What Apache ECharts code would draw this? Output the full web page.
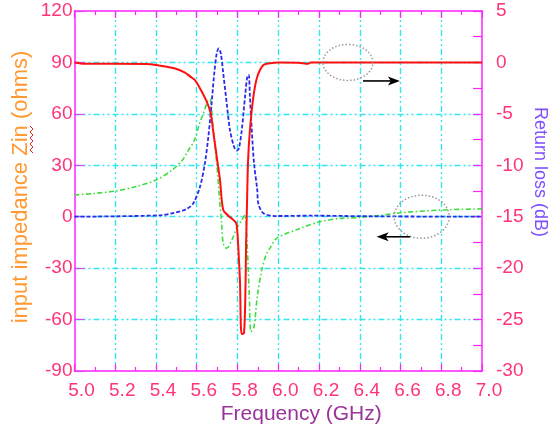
<!DOCTYPE html>
<html>
<head>
<meta charset="utf-8">
<script src="https://cdn.jsdelivr.net/npm/echarts@6/dist/echarts.min.js"></script>
<style>
  html, body { margin: 0; padding: 0; background: #ffffff; }
  #chart { width: 559px; height: 430px; }
</style>
</head>
<body>
<div id="chart"></div>
<script>
// Return loss (dB) versus frequency (GHz)
const freqRL = [5.00, 5.05, 5.35, 5.41, 5.49, 5.54, 5.57, 5.59, 5.615, 5.649, 5.668, 5.680, 5.698, 5.714, 5.730, 5.755, 5.779, 5.793, 5.799, 5.804, 5.812, 5.820, 5.832, 5.839, 5.842, 5.847, 5.852, 5.861, 5.878, 5.897, 5.927, 5.960, 6.00, 6.10, 6.146, 6.16, 7.00];
const lossRL = [0.00, -0.13, -0.15, -0.28, -0.57, -0.96, -1.40, -1.70, -2.49, -3.82, -4.92, -6.57, -9.16, -11.43, -14.35, -14.9, -15.3, -15.6, -16.4, -18.0, -21.2, -26.4, -26.3, -22.1, -17.9, -13.4, -9.5, -6.57, -3.33, -1.39, -0.25, -0.08, 0.0, -0.02, -0.12, 0.0, 0.0];

// Input impedance, real part (ohms)
const freqZr = [5.00, 5.42, 5.49, 5.55, 5.583, 5.616, 5.640, 5.657, 5.673, 5.686, 5.698, 5.708, 5.718, 5.730, 5.747, 5.763, 5.783, 5.796, 5.807, 5.821, 5.837, 5.848, 5.855, 5.861, 5.870, 5.881, 5.897, 5.902, 5.927, 5.992, 6.156, 6.50, 7.00];
const zReal  = [0.0, 0.8, 2.3, 4.5, 7.8, 17.5, 31.2, 46.7, 66.2, 83.7, 95.3, 98.2, 95.3, 83.7, 66.2, 50.6, 40.8, 38.5, 39.9, 50.6, 70.0, 81.7, 82.7, 70.0, 50.6, 31.2, 15.6, 7.8, 2.0, 0.4, 0.6, 0.2, 0.0];

// Input impedance, imaginary part (ohms)
const freqZi = [5.00, 5.10, 5.20, 5.30, 5.40, 5.48, 5.53, 5.56, 5.59, 5.61, 5.632, 5.657, 5.665, 5.681, 5.698, 5.711, 5.722, 5.730, 5.747, 5.772, 5.796, 5.821, 5.837, 5.848, 5.858, 5.866, 5.881, 5.897, 5.919, 5.94, 5.96, 5.992, 6.107, 6.205, 6.303, 6.40, 6.45, 6.50, 6.60, 6.80, 7.00];
const zImag  = [12.7, 13.6, 15.0, 17.5, 21.4, 27.3, 33.1, 38.9, 45.0, 53.0, 60.3, 68.1, 68.5, 50.6, 31.2, 11.7, -3.8, -15.5, -18.4, -13.6, -6.8, -1.9, 1.0, -17.5, -46.7, -67.1, -64.2, -46.7, -31.1, -22.3, -18.2, -12.6, -6.8, -2.9, -1.0, -0.5, 0.3, 0.8, 2.3, 3.9, 4.6];

// Axis ranges
const freqRange = [5.0, 7.0, 0.2];
const zRange = [-90, 120, 30];
const dbRange = [-30, 5, 5];

// Annotation anchors: [freq, value] of ellipse centres and arrow ends
const ellipseRL = [6.342, 0.0];
const arrowRL = [[6.416, -1.8], [6.597, -1.8]];
const ellipseZ = [6.704, 0.0];
const arrowZ = [[6.647, -11.7], [6.483, -11.7]];

const zip = (xs, ys) => xs.map((x, i) => [x, ys[i]]);

const FONT = '"Liberation Sans", Arial, Helvetica, sans-serif';
const AXIS_COLOR = '#ff22ff';
const LABEL_COLOR = '#ff3377';
const GRID_STYLE = { color: '#2ee8ee', width: 1.4, type: [6, 3, 2, 3, 2, 3] };

const chart = echarts.init(document.getElementById('chart'), null, { renderer: 'canvas' });

const option = {
  backgroundColor: '#ffffff',
  animation: false,
  grid: { left: 74.5, right: 77, top: 11, bottom: 59, containLabel: false },
  xAxis: [
    {
      type: 'value', min: freqRange[0], max: freqRange[1], interval: freqRange[2],
      position: 'bottom',
      name: 'Frequency (GHz)', nameLocation: 'middle', nameGap: 33, nameMoveOverlap: false,
      nameTextStyle: { color: '#993399', fontSize: 21, fontFamily: FONT, padding: [0, 0, 0, 46] },
      axisLine: { show: true, onZero: false, lineStyle: { color: AXIS_COLOR, width: 1.5 } },
      axisTick: { show: true, inside: true, length: 7, lineStyle: { color: AXIS_COLOR, width: 1.2 } },
      minorTick: { show: true, splitNumber: 2, length: 4, lineStyle: { color: AXIS_COLOR, width: 1.2 } },
      axisLabel: { color: LABEL_COLOR, fontSize: 19, fontFamily: FONT, margin: 10, padding: [0, 0, 0, 14],
        showMinLabel: true, showMaxLabel: true, hideOverlap: false,
        formatter: v => v.toFixed(1) },
      splitLine: { show: true, showMinLine: false, showMaxLine: false, lineStyle: GRID_STYLE }
    },
    {
      type: 'value', min: freqRange[0], max: freqRange[1], interval: freqRange[2],
      position: 'top',
      axisLine: { show: true, onZero: false, lineStyle: { color: AXIS_COLOR, width: 1.5 } },
      axisTick: { show: true, inside: true, length: 7, lineStyle: { color: AXIS_COLOR, width: 1.2 } },
      minorTick: { show: true, splitNumber: 2, length: 4, lineStyle: { color: AXIS_COLOR, width: 1.2 } },
      axisLabel: { show: false },
      splitLine: { show: false }
    }
  ],
  yAxis: [
    {
      type: 'value', min: zRange[0], max: zRange[1], interval: zRange[2],
      position: 'left',
      name: 'input impedance Zin (ohms)', nameLocation: 'middle', nameGap: 43, nameRotate: 90, nameMoveOverlap: false,
      nameTextStyle: { color: '#ff9933', fontSize: 22, fontFamily: FONT, padding: [0, 0, 0, 8] },
      axisLine: { show: true, onZero: false, lineStyle: { color: AXIS_COLOR, width: 1.5 } },
      axisTick: { show: true, inside: true, length: 10, lineStyle: { color: '#dd44ff', width: 1.2 } },
      axisLabel: { color: LABEL_COLOR, fontSize: 19, fontFamily: FONT, margin: 2, verticalAlign: 'middle',
        padding: [10, 0, 0, 0], showMinLabel: true, showMaxLabel: true, hideOverlap: false },
      splitLine: { show: true, showMinLine: false, showMaxLine: false, lineStyle: GRID_STYLE }
    },
    {
      type: 'value', min: dbRange[0], max: dbRange[1], interval: dbRange[2],
      position: 'right',
      name: 'Return loss (dB)', nameLocation: 'middle', nameGap: 49, nameRotate: -90, nameMoveOverlap: false,
      nameTextStyle: { color: '#8050ff', fontSize: 18, fontFamily: FONT, padding: [0, 38, 0, 0] },
      axisLine: { show: true, onZero: false, lineStyle: { color: AXIS_COLOR, width: 1.5 } },
      axisTick: { show: true, inside: true, length: 9, lineStyle: { color: AXIS_COLOR, width: 1.2 } },
      minorTick: { show: true, splitNumber: 2, length: 9, lineStyle: { color: AXIS_COLOR, width: 1.2 } },
      axisLabel: { color: LABEL_COLOR, fontSize: 19, fontFamily: FONT, margin: 14, verticalAlign: 'middle',
        padding: [10, 0, 0, 0], showMinLabel: true, showMaxLabel: true, hideOverlap: false },
      splitLine: { show: false }
    }
  ],
  series: [
    {
      name: 'Im(Zin)', type: 'line', xAxisIndex: 0, yAxisIndex: 0,
      data: zip(freqZi, zImag), showSymbol: false, symbol: 'none', smooth: 0.3,
      lineStyle: { color: '#3ddd3d', width: 1.6, type: [5, 2.5, 1.5, 2.5] }
    },
    {
      name: 'Re(Zin)', type: 'line', xAxisIndex: 0, yAxisIndex: 0,
      data: zip(freqZr, zReal), showSymbol: false, symbol: 'none', smooth: 0.3,
      lineStyle: { color: '#2a2aee', width: 1.8, type: [4, 2] }
    },
    {
      name: 'Return loss', type: 'line', xAxisIndex: 0, yAxisIndex: 1,
      data: zip(freqRL, lossRL), showSymbol: false, symbol: 'none', smooth: 0.3,
      lineStyle: { color: '#ff1010', width: 2 }
    }
  ]
};

chart.setOption(option);

// Annotation ellipses and arrows, placed from data coordinates
function px(pt, yIdx) {
  return chart.convertToPixel({ xAxisIndex: 0, yAxisIndex: yIdx }, pt);
}
function arrow(p0, p1) {
  const dir = Math.sign(p1[0] - p0[0]);
  const head = 12, half = 4.5;
  return [
    { type: 'line', shape: { x1: p0[0], y1: p0[1], x2: p1[0] - dir * head * 0.6, y2: p1[1] },
      style: { stroke: '#000', lineWidth: 1.6 }, z: 100 },
    { type: 'polygon', shape: { points: [[p1[0], p1[1]], [p1[0] - dir * head, p1[1] - half], [p1[0] - dir * head * 0.75, p1[1]], [p1[0] - dir * head, p1[1] + half]] },
      style: { fill: '#000' }, z: 100 }
  ];
}
function ellipse(c, rx, ry) {
  return { type: 'ellipse', shape: { cx: c[0], cy: c[1], rx: rx, ry: ry },
    style: { fill: null, stroke: '#999999', lineWidth: 1.5, lineDash: [1.5, 2] }, z: 100 };
}

const e1 = px(ellipseRL, 1), e2 = px(ellipseZ, 0);
const graphics = [
  ellipse(e1, 25, 18),
  ...arrow(px(arrowRL[0], 1), px(arrowRL[1], 1)),
  ellipse(e2, 27.5, 21.5),
  ...arrow(px(arrowZ[0], 0), px(arrowZ[1], 0)),
  // spell-check squiggle beside "Zin" in the axis title
  { type: 'polyline', shape: { points: (() => { const p = []; for (let i = 0; i <= 9; i++) p.push([31 + (i % 2 ? 2 : -1), 126 + i * 3]); return p; })() },
    style: { stroke: '#ee2222', lineWidth: 1, fill: null }, z: 100 }
];
chart.setOption({ graphic: graphics });
</script>
</body>
</html>
